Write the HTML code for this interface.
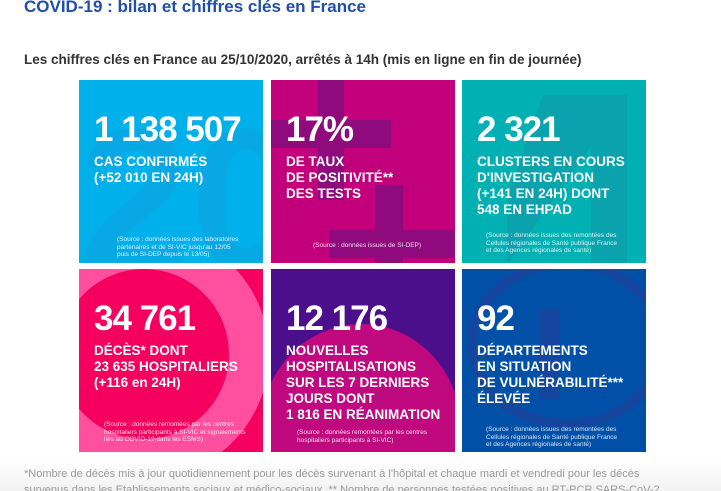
<!DOCTYPE html>
<html><head><meta charset="utf-8">
<style>
*{margin:0;padding:0;box-sizing:border-box}
html,body{width:721px;height:491px;overflow:hidden}
body{background:#fff;font-family:"Liberation Sans",sans-serif;position:relative}
.title{position:absolute;left:24px;top:-3px;font-size:17px;font-weight:bold;color:#1f4fa8}
.sub{position:absolute;left:24px;top:52px;font-size:13.5px;font-weight:bold;color:#333}
.tile{position:absolute;width:184px;height:183px;overflow:hidden;color:#fff}
.big{position:absolute;left:15px;top:30px;font-size:35px;font-weight:bold;letter-spacing:-1px;white-space:nowrap}
.lab{position:absolute;left:15px;top:74px;font-size:13.5px;font-weight:bold;line-height:16px;white-space:nowrap}
.src{position:absolute;font-size:6.5px;line-height:7.5px;color:#fff;opacity:.85;white-space:nowrap}
.foot{position:absolute;left:24px;font-size:11px;color:#999;white-space:nowrap}
.fade{position:absolute;left:0;top:460px;width:721px;height:31px;background:linear-gradient(#fff,#f2f2f2);overflow:hidden}
</style></head><body>
<div class="title">COVID-19 : bilan et chiffres clés en France</div>
<div class="sub">Les chiffres clés en France au 25/10/2020, arrêtés à 14h (mis en ligne en fin de journée)</div>

<div class="tile" style="left:79px;top:80px;background:#00b0eb">
 <div style="position:absolute;left:0;top:20px;font-size:200px;font-weight:bold;color:#08a8e4;line-height:200px">20</div>
 <div class="big">1 138 507</div>
 <div class="lab">CAS CONFIRMÉS<br>(+52 010 EN 24H)</div>
 <div class="src" style="left:38px;top:156px">(Source : données issues des laboratoires<br>partenaires et de SI-VIC jusqu'au 12/05<br>puis de SI-DEP depuis le 13/05)</div>
</div>

<div class="tile" style="left:271px;top:80px;background:#c3007b">
 <div style="position:absolute;left:47px;top:0;width:26px;height:120px;background:#8e0a7d"></div>
 <div style="position:absolute;left:0;top:40px;width:120px;height:28px;background:#8e0a7d"></div>
 <div style="position:absolute;left:104px;top:105px;width:28px;height:80px;background:#8e0a7d"></div>
 <div style="position:absolute;left:58px;top:150px;width:130px;height:28px;background:#8e0a7d"></div>
 <div class="big">17%</div>
 <div class="lab">DE TAUX<br>DE POSITIVITÉ**<br>DES TESTS</div>
 <div class="src" style="left:42px;top:162px">(Source : données issues de SI-DEP)</div>
</div>

<div class="tile" style="left:462px;top:80px;background:#00b0b3">
 <div style="position:absolute;left:45px;top:15px;width:120px;height:170px;background:#0aa2ad;clip-path:polygon(30% 0,100% 0,100% 100%,70% 100%,70% 30%,0 100%,0 60%)"></div>
 <div class="big">2 321</div>
 <div class="lab">CLUSTERS EN COURS<br>D'INVESTIGATION<br>(+141 EN 24H) DONT<br>548 EN EHPAD</div>
 <div class="src" style="left:24px;top:152px">(Source : données issues des remontées des<br>Cellules régionales de Santé publique France<br>et des Agences régionales de santé)</div>
</div>

<div class="tile" style="left:79px;top:269px;background:#f5005e">
 <div style="position:absolute;left:-60px;top:-40px;width:250px;height:250px;border-radius:50%;border:40px solid #ff4f9e"></div>
 <div style="position:absolute;left:-10px;top:-40px;width:0;height:0"></div>
 <div class="big">34 761</div>
 <div class="lab">DÉCÈS* DONT<br>23 635 HOSPITALIERS<br>(+116 en 24H)</div>
 <div class="src" style="left:25px;top:152px">(Source : données remontées par les centres<br>hospitaliers participants à SI-VIC et signalements<br>liés au COVID-19 dans les ESMS)</div>
</div>

<div class="tile" style="left:271px;top:269px;background:#4b0f8c">
 <div style="position:absolute;left:-10px;top:55px;width:200px;height:140px;background:#c0087f;border-radius:60% 60% 0 0/90% 90% 0 0;clip-path:polygon(0 70%,100% 50%,100% 100%,0 100%,0 70%,0 0,100% 0,100% 50%)"></div>
 <div class="big">12 176</div>
 <div class="lab">NOUVELLES<br>HOSPITALISATIONS<br>SUR LES 7 DERNIERS<br>JOURS DONT<br>1 816 EN RÉANIMATION</div>
 <div class="src" style="left:26px;top:160px">(Source : données remontées par les centres<br>hospitaliers participants à SI-VIC)</div>
</div>

<div class="tile" style="left:462px;top:269px;background:#0050a8">
 <div style="position:absolute;left:5px;top:-10px;width:200px;height:170px;border-radius:50%;border:10px solid #1446a0"></div>
 <div style="position:absolute;left:78px;top:40px;width:20px;height:90px;background:#1446a0"></div>
 <div class="big">92</div>
 <div class="lab">DÉPARTEMENTS<br>EN SITUATION<br>DE VULNÉRABILITÉ***<br>ÉLEVÉE</div>
 <div class="src" style="left:24px;top:157px">(Source : données issues des remontées des<br>Cellules régionales de Santé publique France<br>et des Agences régionales de santé)</div>
</div>

<div class="fade">
 <div class="foot" style="top:8px">*Nombre de décès mis à jour quotidiennement pour les décès survenant à l'hôpital et chaque mardi et vendredi pour les décès</div>
 <div class="foot" style="top:24px">survenus dans les Etablissements sociaux et médico-sociaux. ** Nombre de personnes testées positives au RT-PCR SARS-CoV-2</div>
</div>
</body></html>
